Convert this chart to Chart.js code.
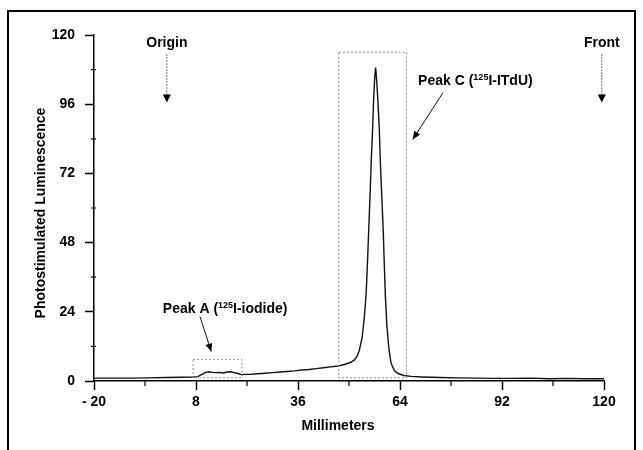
<!DOCTYPE html>
<html>
<head>
<meta charset="utf-8">
<script src="https://cdn.jsdelivr.net/npm/chart.js@4.4.1/dist/chart.umd.min.js"></script>
<style>
    html, body { margin: 0; padding: 0; background: #fff; }
    #wrap { width: 643px; height: 450px; position: relative; }
</style>
</head>
<body>
<div id="wrap"><canvas id="chart"></canvas></div>
<script>
// Scan profile: distance along the strip (mm) vs. photostimulated luminescence
const xMm = [
    -20, -15, -10, -5, 0, 4, 7, 8.5, 9.5, 10.5, 11.5, 12.5, 13.5, 14.5, 15.5, 16.5,
    17.5, 18.5, 19.5, 20.5, 21.5, 23, 25, 27, 29, 31, 33, 35, 37, 39, 41, 43, 45,
    47, 49, 50.5, 51.5, 52.2, 52.8, 53.6, 54.2, 54.7, 55.1, 55.4, 55.8, 56.1, 56.5,
    56.8, 57.1, 57.3, 57.5, 57.9, 58.3, 58.6, 59.0, 59.4, 59.7, 60.0, 60.4, 60.9,
    61.3, 61.6, 62.5, 63.5, 65, 67, 70, 75, 80, 85, 90, 95, 100, 105, 110, 115, 120
];
const luminescence = [
    1.0, 1.0, 1.0, 1.1, 1.2, 1.3, 1.4, 1.5, 2.2, 2.9, 3.2, 3.0, 2.9, 3.0, 2.8, 3.1,
    3.2, 2.9, 2.6, 2.2, 2.3, 2.3, 2.5, 2.7, 2.9, 3.1, 3.3, 3.5, 3.8, 4.0, 4.3, 4.6, 4.9,
    5.2, 5.8, 6.5, 7.3, 8.5, 10.5, 15, 22, 30, 42, 52, 65, 76, 88,
    99, 106, 108.7, 106, 98, 88, 76, 64, 52, 40, 29, 19, 12,
    8, 6, 3.5, 2.6, 1.9, 1.6, 1.4, 1.2, 1.1, 1.0, 0.9, 0.9, 1.0, 0.8, 0.9, 0.8, 0.8
];

const xTicks = [-20, 8, 36, 64, 92, 120];
const xMinorTicks = [-6, 22, 50, 78, 106];
const yTicks = [0, 24, 48, 72, 96, 120];
const yMinorTicks = [12, 36, 60, 84, 108];

// Dotted boxes round the peaks: [xFrom, xTo, yFrom, yTo]
const peakBoxes = [
    [7.2, 20.6, 1.1, 7.5],
    [47.2, 65.8, 1.1, 114]
];
// Labels: [text before sup, sup, text after, x, y]
const peakLabels = [
    ['Peak A (', '125', 'I-iodide)', 16, 25.4],
    ['Peak C (', '125', 'I-ITdU)', 84.7, 104.4]
];
// Solid arrows: [xFrom, yFrom, xTo, yTo]
const peakArrows = [
    [9.1, 22.3, 12.2, 10.2],
    [75.8, 100, 67.5, 83.8]
];
// Dotted marker arrows: [label, x, yText, yFrom, yTip]
const markers = [
    ['Origin', 0, 117.1, 113.3, 96.6],
    ['Front', 119.4, 117.1, 113.3, 96.6]
];

const FONT = '"Liberation Sans", Arial, Helvetica, sans-serif';

function arrowHead(ctx, x1, y1, x2, y2, len, half) {
    const a = Math.atan2(y2 - y1, x2 - x1);
    ctx.beginPath();
    ctx.moveTo(x2, y2);
    ctx.lineTo(x2 - len * Math.cos(a) + half * Math.sin(a), y2 - len * Math.sin(a) - half * Math.cos(a));
    ctx.lineTo(x2 - len * Math.cos(a) - half * Math.sin(a), y2 - len * Math.sin(a) + half * Math.cos(a));
    ctx.closePath();
    ctx.fill();
}

/**
 * Draws frame, minor ticks, axis titles and the annotations
 */
const decorPlugin = {
    id: 'decor',
    afterDraw(chart) {
        const ctx = chart.ctx;
        const xs = chart.scales.x;
        const ys = chart.scales.y;
        const area = chart.chartArea;
        ctx.save();

        // outer frame (open at the bottom)
        ctx.strokeStyle = '#000';
        ctx.lineWidth = 2;
        ctx.beginPath();
        ctx.moveTo(8, 450);
        ctx.lineTo(8, 11);
        ctx.lineTo(635, 11);
        ctx.lineTo(635, 450);
        ctx.stroke();

        // minor ticks
        ctx.lineWidth = 1.2;
        ctx.beginPath();
        xMinorTicks.forEach(v => {
            const px = xs.getPixelForValue(v);
            ctx.moveTo(px, area.bottom);
            ctx.lineTo(px, area.bottom + 5);
        });
        yMinorTicks.forEach(v => {
            const py = ys.getPixelForValue(v);
            ctx.moveTo(area.left - 3, py);
            ctx.lineTo(area.left + 2, py);
        });
        ctx.stroke();

        // axis titles
        ctx.fillStyle = '#000';
        ctx.font = 'bold 14px ' + FONT;
        ctx.textAlign = 'center';
        ctx.textBaseline = 'middle';
        ctx.fillText('Millimeters', 338, 426);
        ctx.save();
        ctx.translate(41, 213);
        ctx.rotate(-Math.PI / 2);
        ctx.fillText('Photostimulated Luminescence', 0, 0);
        ctx.restore();

        // boxes
        ctx.strokeStyle = '#8a8a8a';
        ctx.lineWidth = 1;
        ctx.setLineDash([2, 2]);
        peakBoxes.forEach(b => {
            const x1 = xs.getPixelForValue(b[0]);
            const x2 = xs.getPixelForValue(b[1]);
            const y1 = ys.getPixelForValue(b[2]);
            const y2 = ys.getPixelForValue(b[3]);
            ctx.strokeRect(x1, y2, x2 - x1, y1 - y2);
        });

        // origin / front markers
        ctx.strokeStyle = '#444';
        markers.forEach(m => {
            const px = xs.getPixelForValue(m[1]);
            const yFrom = ys.getPixelForValue(m[3]);
            const yTip = ys.getPixelForValue(m[4]);
            ctx.setLineDash([1.5, 1.5]);
            ctx.beginPath();
            ctx.moveTo(px, yFrom);
            ctx.lineTo(px, yTip - 6);
            ctx.stroke();
            ctx.setLineDash([]);
            ctx.fillStyle = '#000';
            arrowHead(ctx, px, yFrom, px, yTip, 8, 4);
            ctx.font = 'bold 14px ' + FONT;
            ctx.textAlign = 'center';
            ctx.fillText(m[0], px, ys.getPixelForValue(m[2]));
        });

        // peak arrows
        ctx.setLineDash([]);
        ctx.strokeStyle = '#111';
        ctx.fillStyle = '#000';
        ctx.lineWidth = 1;
        peakArrows.forEach(a => {
            const x1 = xs.getPixelForValue(a[0]);
            const y1 = ys.getPixelForValue(a[1]);
            const x2 = xs.getPixelForValue(a[2]);
            const y2 = ys.getPixelForValue(a[3]);
            ctx.beginPath();
            ctx.moveTo(x1, y1);
            ctx.lineTo(x2, y2);
            ctx.stroke();
            arrowHead(ctx, x1, y1, x2, y2, 8, 3.5);
        });

        // peak labels with superscript
        ctx.textAlign = 'left';
        ctx.textBaseline = 'alphabetic';
        peakLabels.forEach(l => {
            const main = 'bold 14px ' + FONT;
            const sup = 'bold 9px ' + FONT;
            ctx.font = main;
            const w1 = ctx.measureText(l[0]).width;
            const w3 = ctx.measureText(l[2]).width;
            ctx.font = sup;
            const w2 = ctx.measureText(l[1]).width;
            const total = w1 + w2 + w3;
            let px = xs.getPixelForValue(l[3]) - total / 2;
            const base = ys.getPixelForValue(l[4]) + 5;
            ctx.font = main;
            ctx.fillText(l[0], px, base);
            px += w1;
            ctx.font = sup;
            ctx.fillText(l[1], px, base - 5);
            px += w2;
            ctx.font = main;
            ctx.fillText(l[2], px, base);
        });

        ctx.restore();
    }
};

new Chart(document.getElementById('chart'), {
    type: 'line',
    data: {
        datasets: [{
            data: xMm.map((x, i) => ({ x: x, y: luminescence[i] })),
            borderColor: '#111',
            borderWidth: 1.4,
            pointRadius: 0,
            tension: 0,
            fill: false
        }]
    },
    options: {
        responsive: true,
        maintainAspectRatio: false,
        animation: false,
        events: [],
        layout: {
            padding: { left: 0, right: 39, top: 35, bottom: 0 }
        },
        plugins: {
            legend: { display: false },
            tooltip: { enabled: false }
        },
        scales: {
            x: {
                type: 'linear',
                min: -20,
                max: 120,
                afterBuildTicks: scale => {
                    scale.ticks = xTicks.map(v => ({ value: v }));
                },
                afterFit: scale => { scale.height = 69; },
                border: { display: true, color: '#000', width: 1.5 },
                grid: {
                    drawOnChartArea: false,
                    drawTicks: true,
                    tickLength: 9,
                    tickColor: '#000',
                    tickWidth: 1.5
                },
                ticks: {
                    padding: 4,
                    color: '#000',
                    font: { family: FONT, size: 14, weight: 'bold' },
                    callback: v => (v < 0 ? '- ' + Math.abs(v) : String(v))
                }
            },
            y: {
                type: 'linear',
                min: 0,
                max: 120,
                afterBuildTicks: scale => {
                    scale.ticks = yTicks.map(v => ({ value: v }));
                },
                afterFit: scale => { scale.width = 94; },
                border: { display: true, color: '#000', width: 1.5 },
                grid: {
                    drawOnChartArea: false,
                    drawTicks: true,
                    tickLength: 9,
                    tickColor: '#000',
                    tickWidth: 1.5
                },
                ticks: {
                    padding: 10,
                    color: '#000',
                    font: { family: FONT, size: 14, weight: 'bold' }
                }
            }
        }
    },
    plugins: [decorPlugin]
});
</script>
</body>
</html>
